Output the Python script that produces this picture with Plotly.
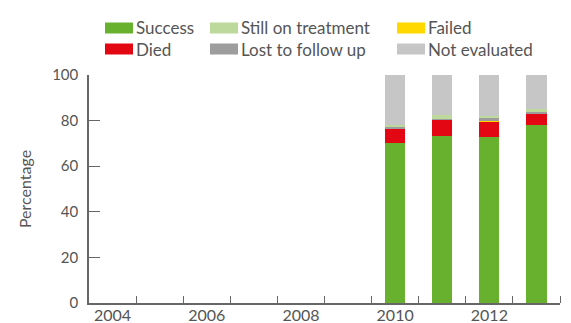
import plotly.graph_objects as go

years = list(range(2004, 2014))
series_names = ["Success", "Died", "Failed", "Lost to follow up", "Still on treatment", "Not evaluated"]
success = [None]*6 + [70.2, 73.2, 72.8, 78.1]
died = [None]*6 + [6.1, 7.1, 6.6, 5.2]
failed = [None]*6 + [0.0, 0.0, 0.4, 0.0]
lost = [None]*6 + [0.9, 0.3, 1.3, 0.5]
still = [None]*6 + [0.7, 1.9, 0.9, 1.3]
not_eval = [None]*6 + [22.1, 17.5, 18.0, 14.9]
colors = ["#67b12f", "#e30613", "#ffd800", "#9d9d9d", "#bdd99b", "#c6c6c6"]
legend_order = ["Success", "Still on treatment", "Failed", "Died", "Lost to follow up", "Not evaluated"]
x_tick_labels = ["2004", "2006", "2008", "2010", "2012"]
y_ticks = [0, 20, 40, 60, 80, 100]

values = [success, died, failed, lost, still, not_eval]
FONT = "Lato"
TXT = "#555555"

fig = go.Figure()
for name, vals, col in zip(series_names, values, colors):
    fig.add_trace(go.Bar(x=years, y=vals, name=name, marker=dict(color=col, line=dict(width=0)),
                         width=0.43, showlegend=False))

# manual legend (pixel layout converted to paper coords)
L, R, T, B = 89, 11, 75, 20
W, H = 571 - L - R, 323 - T - B
def px(x): return (x - L) / W
def py(y): return (323 - B - y) / H
col_x = [105, 210, 397]
row_y = [28, 49]
color_of = dict(zip(series_names, colors))
for i, name in enumerate(legend_order):
    r, c = divmod(i, 3)
    x0 = col_x[c]; yc = row_y[r]
    fig.add_shape(type="rect", xref="paper", yref="paper", x0=px(x0), x1=px(x0 + 28),
                  y0=py(yc + 5.5), y1=py(yc - 5.5), fillcolor=color_of[name], line=dict(width=0))
    fig.add_annotation(xref="paper", yref="paper", x=px(x0 + 29), y=py(yc), text=name,
                       showarrow=False, xanchor="left", yanchor="middle",
                       font=dict(family=FONT, size=17, color=TXT))

fig.update_layout(
    barmode="stack", bargap=0,
    width=571, height=323,
    margin=dict(l=L, r=R, t=T, b=B, autoexpand=False),
    plot_bgcolor="white", paper_bgcolor="white",
    font=dict(family=FONT, size=15, color=TXT),
    xaxis=dict(range=[2003.5, 2013.5], tickvals=[int(v) for v in x_tick_labels], ticktext=x_tick_labels,
               ticks="", showline=True, linecolor="#666666", linewidth=1.5, showgrid=False, zeroline=False,
               tickfont=dict(size=16, color=TXT), automargin=False, ticklabelstandoff=-3,
               minor=dict(tickvals=[y + 0.5 for y in years], ticks="inside", ticklen=7,
                          tickcolor="#666666", tickwidth=1)),
    yaxis=dict(range=[0, 100], tickvals=y_ticks, ticks="inside", ticklen=11, tickcolor="#666666",
               showline=True, linecolor="#666666", linewidth=1.5, showgrid=False, zeroline=False,
               tickfont=dict(size=15, color=TXT), automargin=False, ticklabelstandoff=6,
               title=dict(text="Percentage", font=dict(size=16, color=TXT), standoff=17)),
)
fig.write_html("out.html", config={"displayModeBar": False},
               post_script="document.body.style.margin='0';document.body.style.overflow='hidden';")
